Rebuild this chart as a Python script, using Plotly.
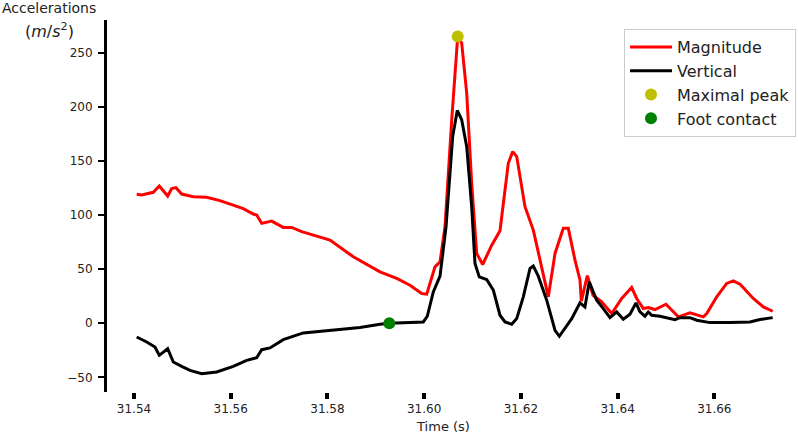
import plotly.graph_objects as go

# Magnitude series (time in s, acceleration in m/s^2)
mag_t = [31.54056, 31.54159, 31.54399, 31.54523, 31.54697, 31.54780, 31.54868, 31.54986,
         31.55226, 31.55503, 31.55778, 31.56053, 31.56260, 31.56467, 31.56537, 31.56641,
         31.56847, 31.57087, 31.57261, 31.57468, 31.57639, 31.58053, 31.58535, 31.59087,
         31.59432, 31.59707, 31.59949, 31.60053, 31.60224, 31.60328, 31.60431, 31.60570,
         31.60694, 31.60776, 31.60880, 31.60983, 31.61086, 31.61211, 31.61397, 31.61568,
         31.61740, 31.61831, 31.61914, 31.62085, 31.62257, 31.62396, 31.62567, 31.62706,
         31.62877, 31.62981, 31.63119, 31.63222, 31.63250, 31.63374, 31.63492, 31.63671,
         31.63878, 31.64085, 31.64291, 31.64395, 31.64531, 31.64635, 31.64773, 31.65001,
         31.65119, 31.65255, 31.65497, 31.65636, 31.65772, 31.65843, 31.66049, 31.66256,
         31.66393, 31.66532, 31.66806, 31.67013, 31.67207]
mag_v = [119.2, 118.5, 121.0, 126.8, 117.6, 124.4, 125.3, 119.4,
         117.0, 116.4, 113.3, 109.3, 105.9, 100.9, 100.0, 92.3,
         94.4, 88.6, 88.6, 84.6, 82.4, 76.9, 61.4, 47.5,
         41.4, 35.2, 27.5, 26.9, 52.1, 56.8, 89.2, 188.0,
         265.0, 259.0, 212.7, 129.0, 64.5, 54.3, 72.2, 85.5,
         147.8, 158.6, 154.0, 107.7, 86.1, 58.3, 24.4, 64.5,
         87.7, 87.7, 58.3, 40.0, 20.5, 44.0, 25.9, 19.7,
         9.0, 22.9, 33.0, 22.9, 13.6, 14.5, 12.7, 17.6,
         12.0, 5.9, 9.6, 7.4, 5.9, 9.0, 24.4, 36.8,
         39.2, 36.1, 22.9, 15.1, 11.1]

# Vertical series
vert_t = [31.54056, 31.54263, 31.54434, 31.54523, 31.54697, 31.54813, 31.54986, 31.55158,
          31.55400, 31.55710, 31.56053, 31.56330, 31.56537, 31.56641, 31.56812, 31.57087,
          31.57501, 31.58192, 31.58673, 31.59087, 31.59279, 31.59982, 31.60065, 31.60189,
          31.60328, 31.60452, 31.60590, 31.60685, 31.60776, 31.60880, 31.60983, 31.61051,
          31.61140, 31.61293, 31.61430, 31.61568, 31.61672, 31.61810, 31.61914, 31.62050,
          31.62189, 31.62257, 31.62360, 31.62534, 31.62706, 31.62795, 31.62913, 31.63051,
          31.63222, 31.63325, 31.63414, 31.63567, 31.63704, 31.63842, 31.63981, 31.64117,
          31.64256, 31.64380, 31.64463, 31.64566, 31.64635, 31.64705, 31.64876, 31.65015,
          31.65186, 31.65290, 31.65497, 31.65636, 31.65910, 31.66324, 31.66737, 31.66944,
          31.67207]
vert_v = [-12.7, -17.3, -21.9, -29.6, -23.5, -35.8, -39.8, -43.5,
          -46.6, -45.0, -39.8, -34.3, -31.8, -24.4, -22.8, -15.1,
          -8.9, -5.9, -4.0, -0.9, 0.0, 1.2, 6.5, 29.0,
          43.5, 89.2, 172.5, 196.6, 188.0, 163.2, 107.7, 55.3,
          42.9, 40.4, 30.6, 7.4, 1.2, -0.9, 4.3, 24.4,
          50.6, 52.8, 43.5, 21.3, -6.5, -12.0, -4.9, 4.3,
          18.8, 15.1, 38.3, 21.3, 13.6, 5.2, 10.5, 3.7,
          8.3, 18.8, 10.5, 6.5, 10.5, 7.4, 6.5, 5.2,
          3.4, 5.2, 5.2, 2.8, 0.6, 0.6, 1.2, 3.4,
          5.2]

peak_t = [31.60694]
peak_v = [265.0]
contact_t = [31.59279]
contact_v = [0.0]

x_ticks = [31.54, 31.56, 31.58, 31.60, 31.62, 31.64, 31.66]
x_ticktext = ["31.54", "31.56", "31.58", "31.60", "31.62", "31.64", "31.66"]
y_ticks = [-50, 0, 50, 100, 150, 200, 250]

FONT = "DejaVu Sans"

fig = go.Figure()
fig.add_trace(go.Scatter(x=mag_t, y=mag_v, mode="lines", name="Magnitude",
                         line=dict(color="#ff0000", width=3)))
fig.add_trace(go.Scatter(x=vert_t, y=vert_v, mode="lines", name="Vertical",
                         line=dict(color="#000000", width=3)))
fig.add_trace(go.Scatter(x=peak_t, y=peak_v, mode="markers", name="Maximal peak",
                         marker=dict(color="#bfbf00", size=12)))
fig.add_trace(go.Scatter(x=contact_t, y=contact_v, mode="markers", name="Foot contact",
                         marker=dict(color="#008000", size=12)))

fig.update_layout(
    width=798, height=436,
    margin=dict(l=107, r=18, t=20, b=44, autoexpand=False),
    plot_bgcolor="white", paper_bgcolor="white",
    font=dict(family=FONT, size=12, color="#222222"),
    showlegend=True,
    legend=dict(xref="container", yref="container", x=0.9975, y=0.9335,
                xanchor="right", yanchor="top", itemwidth=42,
                bgcolor="white", bordercolor="#cccccc", borderwidth=1,
                font=dict(family=FONT, size=16, color="#222222")),
    xaxis=dict(range=[31.53442, 31.67358], tickvals=x_ticks, ticktext=x_ticktext,
               automargin=False,
               showgrid=False, zeroline=False, showline=False,
               ticks="outside", ticklen=6, tickwidth=4, tickcolor="black",
               ticklabelstandoff=0,
               tickfont=dict(family=FONT, size=12, color="#222222"),
               title=dict(text="Time (s)", font=dict(family=FONT, size=13, color="#222222"),
                          standoff=6)),
    yaxis=dict(range=[-63.5, 280.2], tickvals=y_ticks, automargin=False,
               showgrid=False, zeroline=False, showline=True, linecolor="black",
               linewidth=3, ticks="outside", ticklen=6, tickwidth=1.5, tickcolor="black",
               ticklabelstandoff=3,
               tickfont=dict(family=FONT, size=12, color="#222222")),
    annotations=[
        dict(text="Accelerations", xref="paper", yref="paper", x=-0.159, y=1.032,
             xanchor="left", yanchor="middle", showarrow=False,
             font=dict(family=FONT, size=14, color="#222222")),
        dict(text="(<i>m</i>/<i>s</i><sup>2</sup>)", xref="paper", yref="paper",
             x=-0.0847, y=0.973, xanchor="center", yanchor="middle", showarrow=False,
             font=dict(family=FONT, size=16, color="#222222")),
    ],
)

fig.write_html(
    "out.html",
    config={"displayModeBar": False},
    post_script="document.body.style.margin='0px';document.body.style.padding='0px';",
)
